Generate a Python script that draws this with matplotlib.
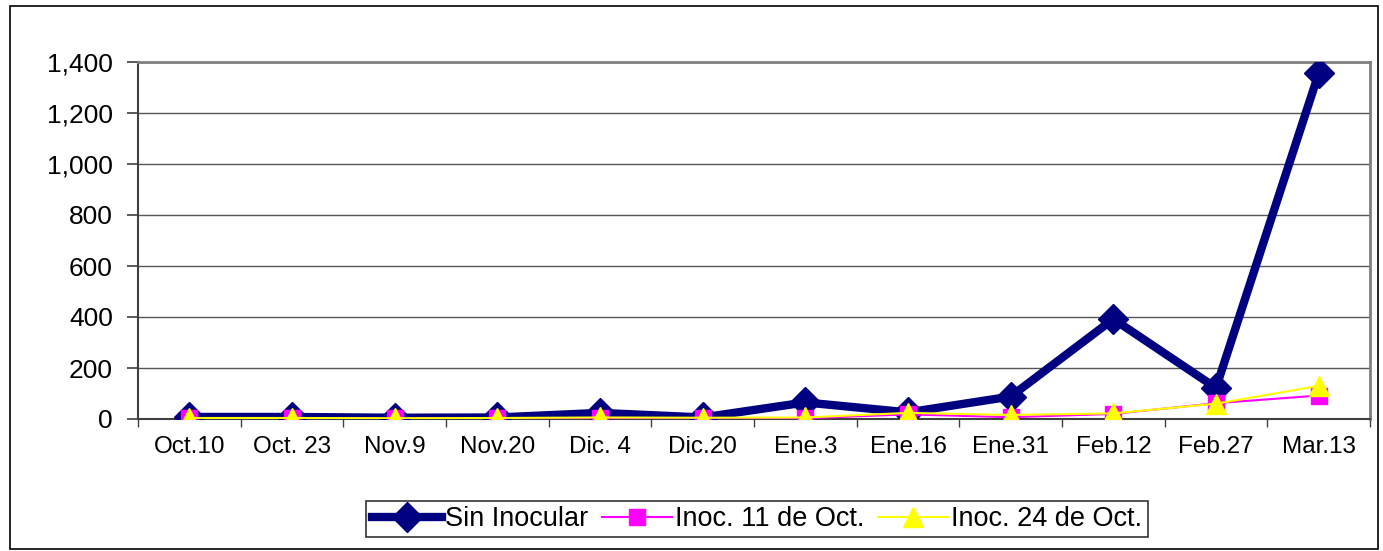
import matplotlib
matplotlib.use("Agg")
import matplotlib.pyplot as plt
from matplotlib.ticker import FuncFormatter, FixedLocator, NullFormatter
from matplotlib.patches import Rectangle

categories = ["Oct.10", "Oct. 23", "Nov.9", "Nov.20", "Dic. 4", "Dic.20",
              "Ene.3", "Ene.16", "Ene.31", "Feb.12", "Feb.27", "Mar.13"]
sin_inocular = [8, 8, 5, 6, 24, 6, 65, 26, 88, 392, 122, 1355]
inoc_11_oct = [3, 3, 2, 3, 4, 3, 3, 18, 7, 20, 62, 92]
inoc_24_oct = [4, 4, 3, 4, 6, 5, 6, 24, 16, 22, 60, 130]
series_names = ["Sin Inocular", "Inoc. 11 de Oct.", "Inoc. 24 de Oct."]
y_ticks = [0, 200, 400, 600, 800, 1000, 1200, 1400]

plt.rcParams['font.family'] = ['Liberation Sans', 'DejaVu Sans']

fig = plt.figure(figsize=(13.83, 5.51), dpi=100)
fig.patches.append(Rectangle((10 / 1383, 2 / 551), 1368 / 1383, 543 / 551,
                             transform=fig.transFigure, fill=False,
                             edgecolor="black", linewidth=1.2))

ax = fig.add_axes([138 / 1383, (551 - 419) / 551, 1232 / 1383, 357 / 551])
x = list(range(len(categories)))

ax.plot(x, sin_inocular, color="#000080", linewidth=6, marker="D",
        markersize=15, markeredgecolor="#000080", label=series_names[0],
        solid_joinstyle="miter", zorder=3)
ax.plot(x, inoc_11_oct, color="#FF00FF", linewidth=1.5, marker="s",
        markersize=11, markeredgecolor="#FF00FF", label=series_names[1], zorder=4)
ax.plot(x, inoc_24_oct, color="#FFFF00", linewidth=1.5, marker="^",
        markersize=14, markeredgecolor="#FFFF00", label=series_names[2], zorder=5)

ax.set_xlim(-0.5, len(categories) - 0.5)
ax.set_ylim(0, 1400)
ax.yaxis.set_major_locator(FixedLocator(y_ticks))
ax.yaxis.set_major_formatter(FuncFormatter(lambda v, p: f"{int(v):,}"))
ax.grid(axis="y", color="#555555", linewidth=1)
ax.set_axisbelow(True)

ax.xaxis.set_major_locator(FixedLocator([i - 0.5 for i in range(len(categories) + 1)]))
ax.xaxis.set_major_formatter(NullFormatter())
ax.xaxis.set_minor_locator(FixedLocator(x))
ax.set_xticklabels(categories, minor=True)
ax.tick_params(axis="x", which="major", direction="out", length=6, color="#404040", width=1)
ax.tick_params(axis="x", which="minor", length=0, pad=12, labelsize=17.5)
ax.tick_params(axis="y", direction="out", length=8, color="#404040", width=1.2,
               labelsize=19, pad=10)

for s in ["left", "bottom"]:
    ax.spines[s].set_color("#404040")
    ax.spines[s].set_linewidth(1.5)
for s in ["top", "right"]:
    ax.spines[s].set_color("#808080")
    ax.spines[s].set_linewidth(2)

leg = fig.legend(loc="center", bbox_to_anchor=(757 / 1383, (551 - 519) / 551),
                 ncol=3, fontsize=19.5, frameon=True, fancybox=False,
                 edgecolor="black", handlelength=2.6, handletextpad=0.1,
                 columnspacing=0.5, borderpad=0.2, borderaxespad=0)
leg.get_frame().set_linewidth(1.2)

fig.savefig("out.png", dpi=100)
